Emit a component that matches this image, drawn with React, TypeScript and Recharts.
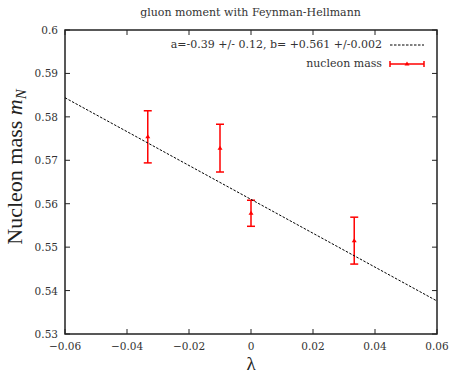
import React from "react";
import { ScatterChart, Scatter, XAxis, YAxis, ErrorBar, ReferenceArea } from "recharts";

// values
const lambdaVals = [-0.0333, -0.01, 0, 0.0333];
const massVals = [0.5754, 0.5728, 0.5578, 0.5515];
const massErr = [0.006, 0.0055, 0.003, 0.0054];

// fit line a*lambda+b drawn across the full x range
const fitLambda = [-0.06, 0.06];
const fitMass = [0.5844, 0.5376];

const xTicks = [-0.06, -0.04, -0.02, 0, 0.02, 0.04, 0.06];
const yTicks = [0.53, 0.54, 0.55, 0.56, 0.57, 0.58, 0.59, 0.6];

const W = 451, H = 373;
const M = { top: 30, right: 14, bottom: 0, left: 20 };
const YAXIS_W = 45, XAXIS_H = 39;
const PL = M.left + YAXIS_W, PR = W - M.right, PT = M.top, PB = H - XAXIS_H;
const TICK = 5;
const FONT = "'Liberation Serif', 'DejaVu Serif', serif";
const SMALL = "'DejaVu Serif', 'Liberation Serif', serif";
const RED = "#ff0000";

const fmt = (v: number) => Number(v.toFixed(2)).toString().replace("-", "\u2212");

const points = lambdaVals.map((x, i) => ({ x, m: massVals[i], err: massErr[i] }));
const fit = fitLambda.map((x, i) => ({ x, m: fitMass[i] }));

function XTick(props: any) {
  const { x, payload } = props;
  return (
    <g>
      <line x1={x} x2={x} y1={PB} y2={PB - TICK} stroke="#222" />
      <line x1={x} x2={x} y1={PT} y2={PT + TICK} stroke="#222" />
      <text x={x} y={PB + 16} textAnchor="middle" fontSize={10.5} fontFamily={SMALL} fill="#333">
        {fmt(payload.value)}
      </text>
    </g>
  );
}

function YTick(props: any) {
  const { y, payload } = props;
  return (
    <g>
      <line x1={PL} x2={PL + TICK} y1={y} y2={y} stroke="#222" />
      <line x1={PR} x2={PR - TICK} y1={y} y2={y} stroke="#222" />
      <text x={PL - 7} y={y + 4} textAnchor="end" fontSize={10.5} fontFamily={SMALL} fill="#333">
        {fmt(payload.value)}
      </text>
    </g>
  );
}

function YLabel() {
  return (
    <text transform="translate(22,167) rotate(-90)" textAnchor="middle" fontSize={22} fontFamily={FONT} fill="#222">
      Nucleon mass <tspan fontStyle="italic">m</tspan>
      <tspan fontStyle="italic" fontSize={15} dy={4}>N</tspan>
    </text>
  );
}

function XLabel() {
  return (
    <text x={(PL + PR) / 2} y={370} textAnchor="middle" fontSize={19} fontFamily={FONT} fill="#222">
      λ
    </text>
  );
}

const Tri = (props: any) => {
  const { cx, cy } = props;
  return <polygon points={`${cx - 2.5},${cy + 1.5} ${cx + 2.5},${cy + 1.5} ${cx},${cy - 2.5}`} fill={RED} />;
};

function LegendBox() {
  const row = { display: "flex", justifyContent: "flex-end", alignItems: "center", height: 19 } as const;
  return (
    <div style={{ position: "absolute", top: 35, right: 26, fontFamily: SMALL, fontSize: 11, color: "#333" }}>
      <div style={row}>
        <span>a=-0.39 +/- 0.12, b= +0.561 +/-0.002</span>
        <svg width={36} height={10} style={{ marginLeft: 7 }}>
          <line x1={1} x2={35} y1={5} y2={5} stroke="#000" strokeDasharray="2.5 1.5" />
        </svg>
      </div>
      <div style={row}>
        <span>nucleon mass</span>
        <svg width={36} height={10} style={{ marginLeft: 7 }}>
          <line x1={1} x2={35} y1={5} y2={5} stroke={RED} strokeWidth={1.5} />
          <line x1={1} x2={1} y1={2} y2={8} stroke={RED} strokeWidth={1.5} />
          <line x1={35} x2={35} y1={2} y2={8} stroke={RED} strokeWidth={1.5} />
          <polygon points="15.5,6.5 20.5,6.5 18,2.5" fill={RED} />
        </svg>
      </div>
    </div>
  );
}

export default function App() {
  return (
    <div style={{ position: "absolute", left: 0, top: 0, width: W, height: H, background: "#fff" }}>
      <div style={{ position: "absolute", left: 0, width: W, top: 6, textAlign: "center", paddingLeft: 50, boxSizing: "border-box", fontFamily: SMALL, fontSize: 11, color: "#333" }}>
        gluon moment with Feynman-Hellmann
      </div>
      <ScatterChart width={W} height={H} margin={M}>
        <XAxis
          dataKey="x"
          type="number"
          domain={[-0.06, 0.06]}
          ticks={xTicks}
          allowDataOverflow
          height={XAXIS_H}
          axisLine={false}
          tickLine={false}
          tick={<XTick />}
          label={<XLabel />}
        />
        <YAxis
          dataKey="m"
          type="number"
          domain={[0.53, 0.6]}
          ticks={yTicks}
          allowDataOverflow
          width={YAXIS_W}
          axisLine={false}
          tickLine={false}
          tick={<YTick />}
          label={<YLabel />}
        />
        <ReferenceArea x1={-0.06} x2={0.06} y1={0.53} y2={0.6} fill="none" stroke="#222" strokeWidth={1.5} />
        <Scatter
          data={fit}
          line={{ stroke: "#000", strokeWidth: 1, strokeDasharray: "2.5 1.5" }}
          shape={() => <g />}
          isAnimationActive={false}
        />
        <Scatter data={points} shape={<Tri />} isAnimationActive={false}>
          <ErrorBar dataKey="err" direction="y" width={4} stroke={RED} strokeWidth={1.5} isAnimationActive={false} />
        </Scatter>
      </ScatterChart>
      <LegendBox />
    </div>
  );
}
